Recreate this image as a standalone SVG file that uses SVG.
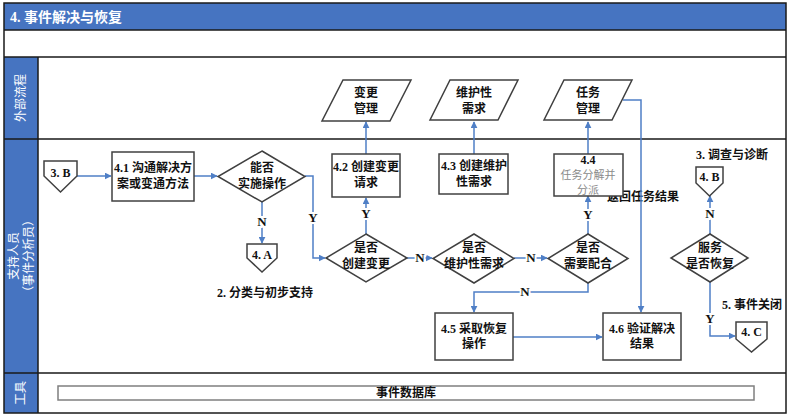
<svg xmlns="http://www.w3.org/2000/svg" width="791" height="417" viewBox="0 0 791 417">
<defs>
<marker id="arr" viewBox="0 0 10 10" refX="9" refY="5" markerWidth="7" markerHeight="7" orient="auto" markerUnits="userSpaceOnUse">
<path d="M0,0 L10,5 L0,10 z" fill="#4f7fc6"/>
</marker>
<style>
.lane{fill:#4674c1}
.frame{fill:none;stroke:#1a1a1a;stroke-width:1.5}
.hd{font-family:"Liberation Serif","Noto Sans CJK SC",serif;font-size:12px;fill:#fff}
.title{font-family:"Liberation Serif","Noto Sans CJK SC",serif;font-size:14px;font-weight:bold;fill:#fff}
.box{fill:#fff;stroke:#404040;stroke-width:1.5}
.t{font-family:"Liberation Serif","Noto Sans CJK SC",serif;font-size:12px;font-weight:bold;fill:#111;text-anchor:middle}
.g{font-family:"Noto Sans CJK SC",sans-serif;font-size:11px;fill:#8a8a8a;text-anchor:middle}
.lbl{font-family:"Liberation Serif","Noto Sans CJK SC",serif;font-size:12px;font-weight:bold;fill:#111}
.yn{font-family:"Liberation Serif",serif;font-size:13px;font-weight:bold;fill:#111;text-anchor:middle;paint-order:stroke;stroke:#fff;stroke-width:4}
.c{fill:none;stroke:#4f7fc6;stroke-width:1.5}
.db{fill:#fff;stroke:#7f7f7f;stroke-width:1.5}
</style>
</defs>
<rect x="0" y="0" width="791" height="417" fill="#fff"/>

<g id="swimlanes">
<rect x="4" y="3" width="782" height="27" class="lane"/>
<text x="10" y="22" class="title">4. 事件解决与恢复</text>
<rect x="4" y="57" width="34" height="82" class="lane"/>
<rect x="4" y="139" width="34" height="234" class="lane"/>
<rect x="4" y="373" width="34" height="40" class="lane"/>
<rect x="4" y="3" width="782" height="410" class="frame"/>
<path d="M4,30 H786 M4,57 H786 M4,139 H786 M4,373 H786 M38,57 V413" class="frame"/>
<text transform="translate(25,98) rotate(-90)" class="hd" text-anchor="middle">外部流程</text>
<text transform="translate(18,256) rotate(-90)" class="hd" text-anchor="middle">支持人员</text>
<text transform="translate(33,256) rotate(-90)" class="hd" text-anchor="middle">（事件分析员）</text>
<text transform="translate(25,393) rotate(-90)" class="hd" text-anchor="middle">工具</text>
</g>

<text x="607" y="201" class="lbl">返回任务结果</text>
<text x="265" y="297" class="lbl" text-anchor="middle">2. 分类与初步支持</text>
<text x="732" y="159" class="lbl" text-anchor="middle">3. 调查与诊断</text>
<text x="752" y="309" class="lbl" text-anchor="middle">5. 事件关闭</text>

<g id="connectors">
<path d="M77,176 H111" class="c" marker-end="url(#arr)"/>
<path d="M194,176 H217" class="c" marker-end="url(#arr)"/>
<path d="M262,202 V243" class="c" marker-end="url(#arr)"/>
<path d="M305,176 H313 V258 H325" class="c" marker-end="url(#arr)"/>
<path d="M366,234 V198" class="c" marker-end="url(#arr)"/>
<path d="M366,154 V122" class="c" marker-end="url(#arr)"/>
<path d="M407,258 H432" class="c" marker-end="url(#arr)"/>
<path d="M474,154 V122" class="c" marker-end="url(#arr)"/>
<path d="M514,258 H547" class="c" marker-end="url(#arr)"/>
<path d="M588,234 V196" class="c" marker-end="url(#arr)"/>
<path d="M588,154 V122" class="c" marker-end="url(#arr)"/>
<path d="M623,100 H641 V312" class="c" marker-end="url(#arr)"/>
<path d="M588,283 V292 H474 V312" class="c" marker-end="url(#arr)"/>
<path d="M513,337 H602" class="c" marker-end="url(#arr)"/>
<path d="M710,234 V196" class="c" marker-end="url(#arr)"/>
<path d="M710,282 V336 H735" class="c" marker-end="url(#arr)"/>
<text x="262" y="226" class="yn">N</text>
<text x="313" y="222" class="yn">Y</text>
<text x="366" y="218" class="yn">Y</text>
<text x="420" y="262" class="yn">N</text>
<text x="531" y="262" class="yn">N</text>
<text x="588" y="219" class="yn">Y</text>
<text x="525" y="296" class="yn">N</text>
<text x="710" y="218" class="yn">N</text>
<text x="710" y="323" class="yn">Y</text>
</g>

<g id="ext-change">
<path d="M343,80 H411 L390,121 H322 Z" class="box"/>
<text x="366" y="97" class="t">变更</text>
<text x="366" y="113" class="t">管理</text>
</g>
<g id="ext-maint">
<path d="M450,80 H518 L498,120 H430 Z" class="box"/>
<text x="474" y="97" class="t">维护性</text>
<text x="474" y="113" class="t">需求</text>
</g>
<g id="ext-task">
<path d="M564,80 H632 L612,120 H544 Z" class="box"/>
<text x="588" y="97" class="t">任务</text>
<text x="588" y="113" class="t">管理</text>
</g>

<g id="ref-3b">
<path d="M44,161 H77 V176 L60.5,192 L44,176 Z" class="box"/>
<text x="60.5" y="177" class="t">3. B</text>
</g>
<g id="n41">
<rect x="112" y="152" width="82" height="49" class="box"/>
<text x="153" y="172" class="t">4.1 沟通解决方</text>
<text x="153" y="188" class="t">案或变通方法</text>
</g>
<g id="d-operate">
<path d="M262,151 L305,176.5 L262,202 L218,176.5 Z" class="box"/>
<text x="262" y="172" class="t">能否</text>
<text x="262" y="188" class="t">实施操作</text>
</g>
<g id="ref-4a">
<path d="M247,244 H277 V258 L262,272 L247,258 Z" class="box"/>
<text x="262" y="259" class="t">4. A</text>
</g>
<g id="d-change">
<path d="M366,234 L407,258 L366,282 L326,258 Z" class="box"/>
<text x="366" y="252" class="t">是否</text>
<text x="366" y="268" class="t">创建变更</text>
</g>
<g id="n42">
<rect x="332" y="154" width="68" height="43" class="box"/>
<text x="366" y="171" class="t">4.2 创建变更</text>
<text x="366" y="187" class="t">请求</text>
</g>
<g id="d-maint">
<path d="M474,234 L514,258.5 L474,283 L433,258.5 Z" class="box"/>
<text x="474" y="252" class="t">是否</text>
<text x="474" y="268" class="t">维护性需求</text>
</g>
<g id="n43">
<rect x="439" y="154" width="69" height="40" class="box"/>
<text x="474" y="170" class="t">4.3 创建维护</text>
<text x="474" y="186" class="t">性需求</text>
</g>
<g id="d-coop">
<path d="M588,234 L628,258.5 L588,283 L548,258.5 Z" class="box"/>
<text x="588" y="252" class="t">是否</text>
<text x="588" y="268" class="t">需要配合</text>
</g>
<g id="n44">
<rect x="554" y="154" width="69" height="42" class="box"/>
<text x="588" y="164" class="t" font-size="11">4.4</text>
<text x="588" y="179" class="g">任务分解并</text>
<text x="588" y="194" class="g">分派</text>
</g>
<g id="n45">
<rect x="435" y="313" width="78" height="47" class="box"/>
<text x="474" y="333" class="t">4.5 采取恢复</text>
<text x="474" y="348" class="t">操作</text>
</g>
<g id="n46">
<rect x="603" y="313" width="78" height="47" class="box"/>
<text x="642" y="333" class="t">4.6 验证解决</text>
<text x="642" y="348" class="t">结果</text>
</g>
<g id="d-restored">
<path d="M710,234 L748,258 L710,282 L671,258 Z" class="box"/>
<text x="710" y="252" class="t">服务</text>
<text x="710" y="268" class="t">是否恢复</text>
</g>
<g id="ref-4b">
<path d="M696,167 H723 V183 L709.5,196 L696,183 Z" class="box"/>
<text x="709.5" y="181" class="t">4. B</text>
</g>
<g id="ref-4c">
<path d="M736,322 H767 V339 L751.5,352 L736,339 Z" class="box"/>
<text x="751.5" y="336" class="t">4. C</text>
</g>
<g id="db">
<rect x="58" y="386" width="696" height="14" class="db"/>
<text x="406" y="397" class="t">事件数据库</text>
</g>
</svg>
